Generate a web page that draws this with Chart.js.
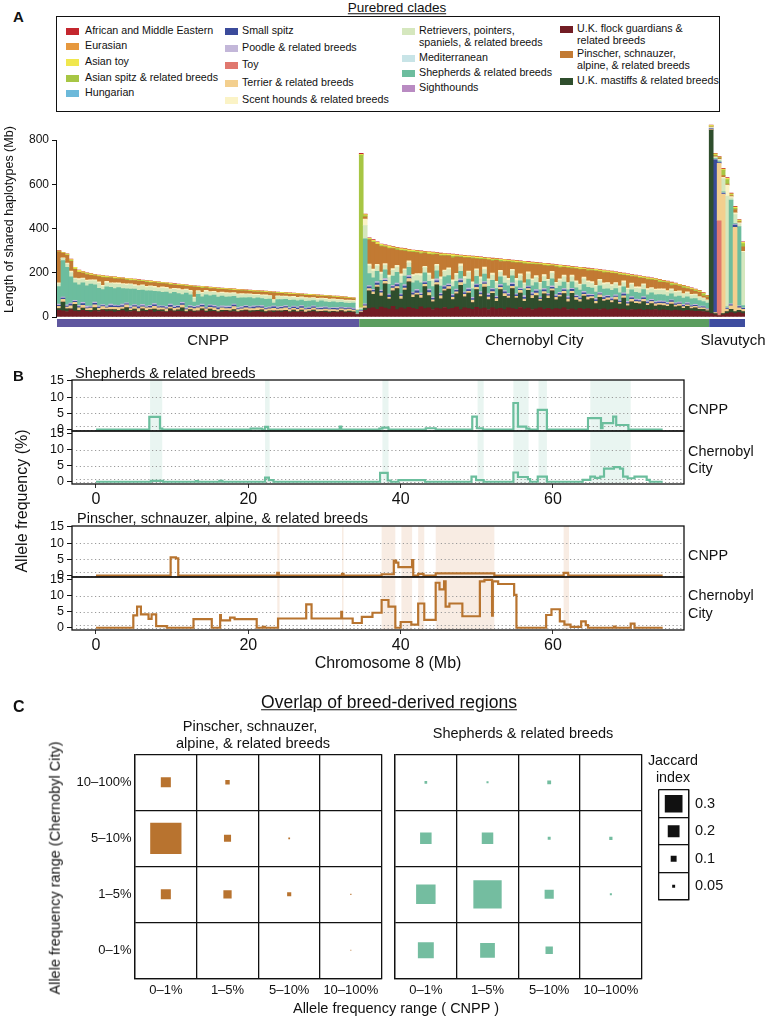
<!DOCTYPE html>
<html><head><meta charset="utf-8">
<script src="https://cdn.jsdelivr.net/npm/chart.js"></script>
<style>
body{margin:0;background:#fff;}
#fig{position:relative;width:770px;height:1018px;overflow:hidden;background:#fff;font-family:"Liberation Sans",Arial,Helvetica,sans-serif;color:#111;}
.t{position:absolute;white-space:pre;line-height:1;}
canvas{position:absolute;}
</style></head>
<body><div id="fig">
<canvas id="cA" width="770" height="240" style="left:0;top:112px"></canvas>
<canvas id="cB1" width="770" height="72" style="left:0;top:370px"></canvas>
<canvas id="cB2" width="770" height="90" style="left:0;top:421px"></canvas>
<canvas id="cB3" width="770" height="72" style="left:0;top:516px"></canvas>
<canvas id="cB4" width="770" height="90" style="left:0;top:567px"></canvas>
<canvas id="cC1" width="390" height="260" style="left:0;top:745px"></canvas>
<canvas id="cC2" width="380" height="260" style="left:390px;top:745px"></canvas>
<canvas id="cC3" width="130" height="135" style="left:640px;top:780px"></canvas>
</div>
<script>
// ================= DATA =================
// ---- Panel A: purebred clades ----
const cladeNames = ['African and Middle Eastern','Eurasian','Asian toy','Asian spitz & related breeds','Hungarian',
  'Small spitz','Poodle & related breeds','Toy','Terrier & related breeds','Scent hounds & related breeds',
  'Retrievers, pointers,\nspaniels, & related breeds','Mediterranean','Shepherds & related breeds','Sighthounds',
  'U.K. flock guardians &\nrelated breeds','Pinscher, schnauzer,\nalpine, & related breeds','U.K. mastiffs & related breeds'];
const cladeColors = ['#C4262E','#E6983E','#F0E74E','#A7C644','#6CB9DA',
  '#3B4B9B','#C3B7D9','#E0786F','#F3CF8E','#FBF3C6',
  '#D5E7BE','#C8E4E7','#6CBD9E','#B98BC2',
  '#721D24','#C27A33','#2F4E2D'];
const groupNames = ['CNPP','Chernobyl City','Slavutych'];
const groupColors = ['#5F579F','#5B9D5F','#3E4D9F'];
const yTicksA = [0,200,400,600,800];

// CNPP (dogs sorted by total length of shared haplotypes, Mb)
const cnppTotal = [300,292,285,262,225,212,205,200,196,192,189,187,185,183,181,179,177,175,173,171,
 169,167,165,163,161,159,157,155,153,151,149,147,145,143,141,140,138,137,135,134,
 132,131,129,128,127,125,124,123,122,120,119,118,117,115,114,113,112,110,109,108,
 107,105,104,103,102,100,99,98,97,95,94,92,91,89,87,35];
const cnppFlock = [30,28,25,32,27,24,30,26,22,28,25,30,24,27,22,26,29,23,25,28,21,27,24,30,22,26,25,21,28,23,
 26,24,20,27,22,25,29,21,24,26,20,23,27,22,25,21,24,28,20,23,26,22,19,25,21,24,22,27,20,23,
 21,25,19,22,24,20,23,21,18,22,20,24,19,21,20,10];
const cnppMastiff = [8,40,12,5,30,6,10,4,8,15,5,3,9,6,12,4,7,20,5,8,3,10,6,4,14,5,7,3,9,5,
 6,18,4,7,5,3,8,6,12,4,5,7,3,6,9,4,5,3,8,6,4,10,5,3,7,4,6,3,5,8,
 4,6,3,5,7,4,3,6,5,4,3,5,4,6,3,1];
const cnppTerrier = [10,12,8,14,9,11,13,8,10,12,9,14,8,11,10,13,9,12,8,10,14,9,11,8,12,10,9,13,8,11,
 10,12,9,8,11,13,9,10,8,12,9,11,8,10,13,9,8,11,10,9,12,8,10,9,11,8,10,12,9,8,
 10,9,11,8,9,10,8,9,10,8,9,8,10,9,8,3];
const cnppSmallSpitz = [5,6,4,7,5,6,8,4,5,7,6,5,4,8,5,6,7,4,5,6,8,5,4,6,7,5,6,4,8,5,
 6,7,4,5,6,5,7,4,6,5,8,4,5,6,7,4,5,6,4,7,5,6,4,5,7,4,6,5,4,6,
 5,7,4,5,6,4,5,6,4,5,6,4,5,4,5,2];
const cnppPoodle = [5,4,6,5,4,6,5,7,4,5,6,4,5,6,5,4,6,5,7,4,5,6,4,5,6,5,4,7,5,6,
 4,5,6,5,4,6,5,4,5,6,4,5,6,5,4,5,6,4,5,5,4,6,5,4,5,6,4,5,5,4,
 6,5,4,5,4,5,6,4,5,4,5,4,5,4,4,1];
const cnppRetriever = [12,10,15,20,18,22,16,20,15,18,22,14,19,17,21,15,18,16,20,14,17,19,15,18,16,14,19,15,17,13,
 16,18,14,15,17,13,16,14,15,12,16,13,15,14,12,15,13,14,12,15,11,13,14,12,11,13,12,10,13,11,
 12,10,12,11,10,12,9,11,10,9,11,10,9,10,9,2];
const cnppScent = [4,3,5,6,4,7,5,6,4,5,7,5,6,4,5,6,5,7,4,6,5,4,6,5,7,4,5,6,4,5,
 6,5,4,6,5,4,5,6,4,5,4,6,5,4,5,4,6,4,5,4,5,4,6,4,5,4,4,5,4,5,
 4,4,5,4,4,5,4,4,5,4,4,3,4,4,3,1];
const cnppPinscher = [140,20,35,45,40,28,22,25,20,18,24,35,16,22,19,18,21,17,15,19,20,16,18,14,17,19,15,16,18,14,
 15,17,13,16,45,15,18,12,14,13,15,12,14,13,11,14,12,13,11,12,10,13,11,12,30,11,12,9,11,10,
 12,9,10,11,9,10,8,9,10,8,9,8,9,8,7,1];
const cnppAsianSpitz = [2,1,2,3,2,1,2,3,2,1,2,2,3,1,2,2,1,3,2,2,1,2,3,2,1,2,2,1,3,2,
 1,2,2,1,2,2,3,1,2,1,2,2,1,2,1,2,2,1,2,1,2,1,2,2,1,2,1,2,1,1,
 2,1,2,1,1,2,1,1,2,1,1,1,2,1,1,0];
const cnppAsianToy = [2,2,3,5,6,8,4,3,5,4,3,6,4,3,5,4,3,4,5,3,4,3,4,5,3,4,3,3,4,3,
 4,3,3,4,3,3,4,3,3,3,4,3,3,3,4,3,3,3,3,4,3,3,3,3,3,3,3,3,4,3,
 3,3,3,3,3,3,3,3,3,3,3,3,3,3,3,1];
const cnppAfrican = [2,1,1,2,1,1,1,2,1,1,1,1,1,2,1,1,1,1,1,1,2,1,1,1,1,1,1,1,1,2,
 1,1,1,1,1,1,1,1,1,1,1,1,1,1,1,1,1,1,1,1,1,1,1,1,1,1,1,1,1,1,
 1,1,1,1,1,1,1,1,1,1,1,1,1,1,1,0];

// Chernobyl City
const chernTotal = [740,465,358,350,340,330,326,322,318,315,312,309,306,303,301,299,297,295,293,291,
 289,287,285,284,282,280,279,277,275,274,272,270,268,266,265,263,261,259,257,256,
 254,252,250,248,247,245,243,241,239,237,235,233,231,229,227,225,223,221,219,217,
 214,212,209,207,204,201,198,195,192,189,186,183,180,177,174,170,166,162,158,153,
 148,143,138,132,126,120,110,98];
const chernFlock = [20,30,38,42,35,45,40,36,48,33,41,37,44,39,35,46,38,42,34,40,
 37,43,36,39,45,33,41,38,35,44,37,40,34,42,36,39,33,41,38,35,
 43,36,40,34,37,42,35,39,33,38,36,41,34,37,32,39,35,38,33,36,
 34,37,32,35,38,33,36,31,34,32,35,30,33,31,34,29,32,30,28,31,
 29,27,30,28,26,27,25,22];
const chernMastiff = [0,10,80,60,100,50,110,45,70,95,40,85,115,50,65,40,100,55,35,105,
 45,75,90,40,60,110,50,70,30,80,55,95,45,65,35,85,60,45,90,50,
 65,35,80,50,60,30,70,45,85,40,55,65,35,70,45,30,60,40,50,25,
 55,35,45,30,40,25,50,20,35,30,25,40,20,30,15,25,20,18,30,15,
 20,12,18,10,15,8,10,6];
const chernTerrier = [5,10,10,12,9,14,11,8,13,10,12,9,15,11,8,12,10,13,9,11,
 14,8,12,10,9,13,11,8,12,10,9,14,11,8,12,10,13,9,11,8,
 12,10,9,13,11,8,10,12,9,11,8,10,12,9,11,10,8,12,9,10,
 11,8,10,9,12,8,10,9,11,8,9,10,8,9,10,8,9,8,10,8,
 9,8,7,8,7,6,7,5];
const chernSmallSpitz = [3,5,8,6,9,7,5,10,6,8,7,9,6,8,10,5,7,9,6,8,
 7,10,5,8,6,9,7,8,6,10,7,5,8,9,6,7,8,6,9,7,
 5,8,6,7,9,6,8,5,7,6,8,7,6,9,5,7,6,8,6,7,
 5,8,6,7,5,6,8,5,7,6,5,7,6,5,6,5,6,5,6,5,
 5,6,5,4,5,4,4,3];
const chernPoodle = [2,5,6,5,7,6,8,5,6,7,5,6,8,5,7,6,5,7,6,8,
 5,6,7,5,6,8,5,7,6,5,7,6,8,5,6,7,5,6,7,5,
 6,8,5,6,7,5,6,5,7,6,5,6,7,5,6,5,7,6,5,6,
 5,6,5,7,5,6,5,6,5,5,6,5,6,5,5,6,5,5,4,5,
 5,4,5,4,4,4,3,3];
const chernRetriever = [5,60,35,30,25,28,22,30,26,24,32,27,20,29,25,31,23,28,26,22,
 30,25,27,21,29,24,26,30,23,27,25,22,28,24,26,21,27,25,23,29,
 24,22,26,25,23,28,22,24,26,21,25,23,27,22,24,21,25,23,20,24,
 22,21,23,20,22,24,20,21,23,19,21,20,22,18,20,19,21,18,17,19,
 18,16,17,15,16,14,13,12];
const chernScent = [3,30,8,10,7,9,6,11,8,7,10,6,9,8,7,10,6,9,8,7,
 11,6,8,9,7,10,8,6,9,7,8,10,6,9,7,8,6,9,7,10,
 8,6,9,7,8,6,9,7,8,6,7,9,6,8,7,6,8,7,9,6,
 7,8,6,7,6,8,7,6,7,6,7,6,7,6,6,7,6,6,5,6,
 5,5,6,5,5,4,4,3];
const chernPinscher = [0,10,110,120,90,115,75,120,90,70,105,80,40,100,95,90,60,85,110,45,
 95,65,55,100,75,30,85,60,105,45,80,35,85,55,95,40,65,75,30,70,
 50,85,35,65,50,80,40,60,25,70,50,35,65,30,55,65,35,45,50,65,
 35,45,45,50,40,50,25,55,30,45,40,25,40,35,40,30,30,35,15,28,
 22,25,15,22,12,20,8,12];
const chernAsianSpitz = [690,5,3,4,2,5,3,4,2,6,3,4,2,5,3,4,2,3,5,2,
 4,3,2,6,3,4,2,3,5,2,4,3,2,4,3,5,2,3,4,2,
 3,5,2,4,3,2,3,4,2,3,5,2,3,4,2,3,2,4,3,2,
 3,4,2,3,2,3,4,2,3,2,3,2,4,3,2,6,3,2,8,3,
 2,7,3,2,5,2,10,3];
const chernAsianToy = [3,5,4,6,8,5,4,7,5,4,6,5,8,4,5,6,4,7,5,4,
 6,5,4,8,5,4,6,5,4,7,5,4,6,5,4,5,6,4,5,7,
 4,5,6,4,5,4,6,5,4,5,6,4,5,4,5,6,4,5,4,5,
 4,6,4,5,4,5,4,5,4,4,5,4,5,4,4,5,4,4,5,4,
 4,3,4,4,3,4,3,3];
const chernAfrican = [5,2,2,3,2,2,3,2,2,2,3,2,2,2,2,3,2,2,2,2,
 3,2,2,2,2,2,3,2,2,2,2,2,2,3,2,2,2,2,2,2,
 2,2,3,2,2,2,2,2,2,2,2,2,2,2,2,2,2,3,2,2,
 2,2,2,2,2,2,2,2,2,2,2,2,2,2,2,2,2,2,3,2,
 2,2,2,2,2,2,2,2];

// Slavutych
const slavTotal = [868,740,725,672,630,560,500,440,340];
const slavFlock = [15,10,5,10,15,20,15,20,15];
const slavMastiff = [830,5,0,5,10,15,10,10,10];
const slavToy = [0,0,430,0,0,0,0,0,0];
const slavTerrier = [3,5,260,540,10,15,380,12,10];
const slavSmallSpitz = [3,690,3,3,3,5,10,5,4];
const slavPoodle = [2,3,2,3,3,4,5,4,3];
const slavRetriever = [3,5,5,60,500,10,40,12,240];
const slavScent = [2,3,3,5,50,5,8,5,5];
const slavPinscher = [3,5,5,8,5,5,15,5,20];
const slavAsianSpitz = [2,3,2,25,20,3,5,3,15];
const slavAsianToy = [3,5,3,5,6,5,6,4,5];
const slavAfrican = [2,3,2,3,3,3,3,2,3];

// ---- Panel B: chromosome 8 allele frequency (%), step segments start (Mb) / value ----
const yTicksB = [0,5,10,15];
const xTicksB = [0,20,40,60];
const freqGuides = [0,1,5,10];
const shepBands = [[7.1,8.7],[22.2,22.8],[37.6,38.4],[50.1,50.9],[54.8,56.8],[58.1,59.2],[64.9,70.2]];
const pinBands = [[23.8,24.1],[32.3,32.5],[37.5,39.3],[40.1,41.5],[42.3,43.1],[44.6,52.3],[61.4,62.1]];
const shepCnppPos = [0,7.0,8.4,8.7,20.3,21.8,22.2,22.6,32.0,32.2,37.2,37.6,38.4,43.3,44.6,49.4,50.0,50.8,54.8,55.4,56.5,56.9,58.0,59.2,64.6,66.3,66.5,67.9,68.3,69.9,74.4];
const shepCnppVal = [0,3.9,0.3,0,0.3,0,0.8,0,0.9,0,0.3,0.6,0,0.4,0,4.0,0.4,0,8.2,0.9,0.3,0,6.1,0,3.5,0.4,2.0,4.0,1.4,0,0];
const shepChernPos = [0,7.2,8.8,13.1,13.4,16.2,16.6,22.2,22.7,23.3,37.3,38.3,38.7,39.7,43.2,49.3,49.9,50.9,54.8,55.4,56.7,57.0,58.0,59.2,63.9,64.9,65.5,66.2,66.7,68.0,68.8,69.2,69.8,70.7,72.3,72.7,74.4];
const shepChernVal = [0,0.3,0,0.2,0,0.3,0,1.3,0.5,0,2.8,0.4,0,0.5,0,1.6,0.5,0,2.9,1.5,0.8,0,1.6,0,0.6,1.6,1.2,1.6,4.1,4.6,4.1,1.6,1.1,1.6,0.6,0,0];
const pinCnppPos = [0,9.8,10.5,10.8,23.8,24.0,32.3,32.5,37.5,39.1,39.4,39.7,41.5,41.65,42.3,43.0,44.6,52.3,61.4,62.0,74.4];
const pinCnppVal = [0,5.6,5.3,0,0.8,0,0.5,0,0.4,4.6,4.0,2.6,4.8,0,0.5,0,0.7,0,0.8,0,0];
const pinChernPos = [0,4.9,5.4,5.9,6.9,7.3,7.9,9.3,12.8,15.2,16.3,16.4,17.6,18.2,21.1,21.9,22.2,23.9,27.6,28.3,32.2,32.3,33.7,34.9,36.3,37.5,38.4,39.3,40.0,41.4,42.3,43.1,44.6,45.1,45.7,45.9,46.4,48.1,50.4,51.0,52.0,52.1,52.8,54.9,55.2,59.1,59.8,60.9,61.5,62.3,63.7,64.3,64.6,68.0,68.2,70.2,70.7,74.4];
const pinChernVal = [0,3.9,6.6,4.2,2.8,4.2,0.5,0,2.7,0,4.0,2.3,3.2,2.7,0,0.3,0,2.9,7.3,2.9,5.0,2.9,1.5,3.4,4.7,8.7,6.6,0,1.8,1.0,7.6,2.5,14.1,12.0,14.5,6.6,7.6,3.6,14.5,15.0,3.8,14.5,13.7,10.3,0,4.0,5.8,2.0,1.0,0.3,2.0,0.8,0,0.4,0,1.3,0,0];

// ---- Panel C: Jaccard index; rows = Chernobyl City range, columns = CNPP range ----
const freqRanges = ['0–1%','1–5%','5–10%','10–100%'];
const pinJ_10_100 = [0.17,0.075,0,0];
const pinJ_5_10 = [0.53,0.12,0.03,0];
const pinJ_1_5 = [0.17,0.14,0.07,0.02];
const pinJ_0_1 = [0,0,0,0.015];
const shepJ_10_100 = [0.045,0.035,0.065,0];
const shepJ_5_10 = [0.195,0.195,0.05,0.055];
const shepJ_1_5 = [0.33,0.48,0.155,0.035];
const shepJ_0_1 = [0.27,0.25,0.125,0];
const jaccardKeys = [0.3,0.2,0.1,0.05];

// ================= RENDER =================
const FONT = '"Liberation Sans", Arial, Helvetica, sans-serif';
Chart.defaults.font.family = FONT;
Chart.defaults.color = '#111';
Chart.defaults.animation = false;
const fig = document.getElementById('fig');
function noPad(s) { s.paddingTop = 0; s.paddingBottom = 0; s.paddingLeft = 0; s.paddingRight = 0; }
function addText(str, x, y, o = {}) {
  const d = document.createElement('div');
  d.className = 't';
  d.textContent = str;
  d.style.left = x + 'px'; d.style.top = y + 'px';
  d.style.fontSize = (o.size || 12) + 'px';
  if (o.bold) d.style.fontWeight = 'bold';
  if (o.underline) d.style.textDecoration = 'underline';
  if (o.lh) d.style.lineHeight = o.lh + 'px';
  let tr = 'translateY(-50%)';
  if (o.align === 'center') tr = 'translate(-50%,-50%)';
  if (o.rotate) tr = 'translate(-50%,-50%) rotate(-90deg)';
  if (o.raw) tr = 'none';
  d.style.transform = tr;
  fig.appendChild(d);
  return d;
}

// ---------- Panel A ----------
addText('A', 13, 16, {size: 15, bold: true});
addText('Purebred clades', 397, 8, {size: 13.5, align: 'center', underline: true});
const box = document.createElement('div');
Object.assign(box.style, {position: 'absolute', left: '56px', top: '16px', width: '664px', height: '96px', border: '1.3px solid #111', boxSizing: 'border-box'});
fig.appendChild(box);
const legendLayout = [
  {sw: 66, tx: 85, ys: [31,46,62,78,93]},
  {sw: 225, tx: 242, ys: [31,48,65,83,100]},
  {sw: 402, tx: 419, ys: [31,58,73,88]},
  {sw: 560, tx: 577, ys: [29,54,81]}
];
let ci = 0;
legendLayout.forEach(col => col.ys.forEach(yy => {
  const sw = document.createElement('div');
  Object.assign(sw.style, {position: 'absolute', left: col.sw + 'px', top: (yy - 3.5) + 'px', width: '13px', height: '7px', background: cladeColors[ci]});
  fig.appendChild(sw);
  addText(cladeNames[ci], col.tx, yy - 5.75, {size: 10.7, lh: 11.5, raw: true});
  ci++;
}));

const groups = [
  {name: groupNames[0], total: cnppTotal, parts: {flock: cnppFlock, mastiff: cnppMastiff, terrier: cnppTerrier, smallSpitz: cnppSmallSpitz, poodle: cnppPoodle, retriever: cnppRetriever, scent: cnppScent, pinscher: cnppPinscher, asianSpitz: cnppAsianSpitz, asianToy: cnppAsianToy, african: cnppAfrican}},
  {name: groupNames[1], total: chernTotal, parts: {flock: chernFlock, mastiff: chernMastiff, terrier: chernTerrier, smallSpitz: chernSmallSpitz, poodle: chernPoodle, retriever: chernRetriever, scent: chernScent, pinscher: chernPinscher, asianSpitz: chernAsianSpitz, asianToy: chernAsianToy, african: chernAfrican}},
  {name: groupNames[2], total: slavTotal, parts: {flock: slavFlock, mastiff: slavMastiff, toy: slavToy, terrier: slavTerrier, smallSpitz: slavSmallSpitz, poodle: slavPoodle, retriever: slavRetriever, scent: slavScent, pinscher: slavPinscher, asianSpitz: slavAsianSpitz, asianToy: slavAsianToy, african: slavAfrican}}
];
const stackOrder = ['flock','mastiff','toy','terrier','smallSpitz','poodle','shepherd','retriever','scent','pinscher','asianSpitz','asianToy','african'];
const cladeOfKey = {african: 0, asianToy: 2, asianSpitz: 3, smallSpitz: 5, poodle: 6, toy: 7, terrier: 8, scent: 9, retriever: 10, shepherd: 12, flock: 14, pinscher: 15, mastiff: 16};
function partValue(g, key, i) {
  if (key === 'shepherd') {
    let s = 0;
    Object.keys(g.parts).forEach(k => { s += g.parts[k][i]; });
    return Math.max(0, g.total[i] - s);
  }
  return g.parts[key] ? g.parts[key][i] : 0;
}
const labelsA = [];
groups.forEach(g => g.total.forEach((_, i) => labelsA.push(g.name + ' #' + (i + 1))));
const datasetsA = stackOrder.map(key => ({
  label: cladeNames[cladeOfKey[key]],
  data: [].concat(...groups.map(g => g.total.map((_, i) => partValue(g, key, i)))),
  backgroundColor: cladeColors[cladeOfKey[key]],
  borderWidth: 0, barPercentage: 1, categoryPercentage: 1, stack: 's'
}));
const stripPlugin = {
  id: 'groupStrip',
  afterDatasetsDraw(chart) {
    const {ctx} = chart; const x = chart.scales.x, y = chart.scales.y;
    const half = (x.getPixelForValue(1) - x.getPixelForValue(0)) / 2;
    const y0 = y.getPixelForValue(0);
    let start = 0;
    ctx.save();
    groups.forEach((g, gi) => {
      const n = g.total.length;
      const xL = x.getPixelForValue(start) - half;
      const xR = x.getPixelForValue(start + n - 1) + half;
      ctx.fillStyle = groupColors[gi];
      ctx.fillRect(xL, y0 + 2, xR - xL, 8);
      ctx.fillStyle = '#111';
      ctx.font = '15px ' + FONT;
      ctx.textAlign = 'center'; ctx.textBaseline = 'middle';
      ctx.fillText(g.name, (xL + xR) / 2 + (gi === 2 ? 6 : 0), y0 + 24);
      start += n;
    });
    ctx.strokeStyle = '#111'; ctx.lineWidth = 1;
    const ax = Math.round(chart.chartArea.left) - 0.5;
    ctx.beginPath();
    ctx.moveTo(ax, y.getPixelForValue(0));
    ctx.lineTo(ax, y.getPixelForValue(yTicksA[yTicksA.length - 1]));
    ctx.stroke();
    ctx.restore();
  }
};
new Chart(document.getElementById('cA'), {
  type: 'bar',
  data: {labels: labelsA, datasets: datasetsA},
  options: {
    responsive: false, events: [],
    layout: {autoPadding: false, padding: {top: 10.3, right: 25, bottom: 35, left: 0}},
    plugins: {legend: {display: false}, tooltip: {enabled: false}},
    scales: {
      x: {stacked: true, display: false},
      y: {stacked: true, min: 0, max: 880,
        afterFit(s) { s.width = 57; noPad(s); },
        afterBuildTicks(s) { s.ticks = yTicksA.map(v => ({value: v})); },
        grid: {drawOnChartArea: false, tickLength: 5, color: '#111'},
        border: {display: false},
        ticks: {font: {size: 12}, color: '#111', padding: 3, autoSkip: false},
        title: {display: true, text: 'Length of shared haplotypes (Mb)', font: {size: 12.5}, color: '#111', padding: {top: 2, bottom: 0}}
      }
    }
  },
  plugins: [stripPlugin]
});

// ---------- Panel B ----------
addText('B', 13, 375, {size: 15, bold: true});
addText('Shepherds & related breeds', 75, 373, {size: 14.5});
addText('Pinscher, schnauzer, alpine, & related breeds', 77, 518, {size: 14.5});
addText('CNPP', 688, 409, {size: 14.4});
addText('Chernobyl', 688, 451, {size: 14.4});
addText('City', 688, 468, {size: 14.4});
addText('CNPP', 688, 555, {size: 14.4});
addText('Chernobyl', 688, 595, {size: 14.4});
addText('City', 688, 613, {size: 14.4});
addText('Allele frequency (%)', 22, 501, {size: 16, rotate: true});
addText('Chromosome 8 (Mb)', 388, 663, {size: 16, align: 'center'});

function makeTrack(id, pos, val, color, bands, bandColor, yMin, yMax, isBottom) {
  const decor = {
    id: 'decor_' + id,
    beforeDatasetsDraw(chart) {
      const {ctx, chartArea: a} = chart; const x = chart.scales.x, y = chart.scales.y;
      ctx.save();
      ctx.fillStyle = bandColor;
      bands.forEach(b => { const x0 = x.getPixelForValue(b[0]), x1 = x.getPixelForValue(b[1]); ctx.fillRect(x0, a.top, x1 - x0, a.bottom - a.top); });
      ctx.strokeStyle = '#9a9a9a'; ctx.lineWidth = 1; ctx.setLineDash([1.2, 2.6]);
      freqGuides.forEach(v => { const yy = Math.round(y.getPixelForValue(v)) + 0.5; ctx.beginPath(); ctx.moveTo(a.left + 4, yy); ctx.lineTo(a.right, yy); ctx.stroke(); });
      ctx.restore();
    },
    afterDatasetsDraw(chart) {
      const {ctx, chartArea: a} = chart;
      ctx.save();
      ctx.strokeStyle = '#111'; ctx.lineWidth = 1.3;
      ctx.strokeRect(a.left, a.top, a.right - a.left, a.bottom - a.top);
      ctx.restore();
    }
  };
  return new Chart(document.getElementById(id), {
    type: 'line',
    data: {datasets: [{data: pos.map((p, i) => ({x: p, y: val[i]})), borderColor: color, borderWidth: 2.2, pointRadius: 0, stepped: true, fill: false, borderJoinStyle: 'miter'}]},
    options: {
      responsive: false, events: [],
      layout: {autoPadding: false, padding: {top: 10, right: 86, bottom: isBottom ? 0 : 11, left: 0}},
      plugins: {legend: {display: false}, tooltip: {enabled: false}},
      scales: {
        x: {type: 'linear', min: -3.15, max: 77.2, display: isBottom,
          afterFit(s) { s.height = isBottom ? 27 : 0; noPad(s); },
          afterBuildTicks(s) { s.ticks = xTicksB.map(v => ({value: v})); },
          grid: {drawOnChartArea: false, tickLength: 4, color: '#333'},
          border: {display: false},
          ticks: {font: {size: 16}, color: '#111', padding: 2, maxRotation: 0, autoSkip: false}},
        y: {type: 'linear', min: yMin, max: yMax,
          afterFit(s) { s.width = 72; noPad(s); },
          afterBuildTicks(s) { s.ticks = yTicksB.map(v => ({value: v})); },
          grid: {drawOnChartArea: false, tickLength: 5, color: '#111'},
          border: {display: false},
          ticks: {font: {size: 12.5}, color: '#111', padding: 3, autoSkip: false}}
      }
    },
    plugins: [decor]
  });
}
const shepColor = '#6BBE9D', pinColor = '#B8742F';
const shepBand = 'rgba(108,190,158,0.15)', pinBand = 'rgba(205,125,70,0.15)';
makeTrack('cB1', shepCnppPos, shepCnppVal, shepColor, shepBands, shepBand, -0.45, 15.3, false);
makeTrack('cB2', shepChernPos, shepChernVal, shepColor, shepBands, shepBand, -0.7, 15.9, true);
makeTrack('cB3', pinCnppPos, pinCnppVal, pinColor, pinBands, pinBand, -0.45, 15.3, false);
makeTrack('cB4', pinChernPos, pinChernVal, pinColor, pinBands, pinBand, -0.7, 15.9, true);

// ---------- Panel C ----------
addText('C', 13, 707, {size: 16, bold: true});
addText('Overlap of breed-derived regions', 389, 703, {size: 17.5, align: 'center', underline: true});
addText('Pinscher, schnauzer,', 250, 726, {size: 14.6, align: 'center'});
addText('alpine, & related breeds', 253, 743, {size: 14.6, align: 'center'});
addText('Shepherds & related breeds', 523, 733, {size: 14.5, align: 'center'});
addText('Allele frequency range (Chernobyl City)', 55, 868, {size: 14.5, rotate: true});
addText('Allele frequency range ( CNPP )', 396, 1008, {size: 14.5, align: 'center'});
addText('Jaccard', 673, 760, {size: 14.3, align: 'center'});
addText('index', 673, 777, {size: 14.3, align: 'center'});

const rowLabels = freqRanges.slice().reverse(); // top to bottom
const SIDE_PER_J = 59;
function sqRadius(ctx) { return (ctx.raw && ctx.raw.j > 0) ? ctx.raw.j * SIDE_PER_J / Math.SQRT2 : 0; }
function makeGrid(id, rows, color, showY, pad) {
  const data = [];
  rows.forEach((r, ri) => r.forEach((v, cj) => data.push({x: freqRanges[cj], y: rowLabels[ri], j: v})));
  return new Chart(document.getElementById(id), {
    type: 'scatter',
    data: {datasets: [{data, pointStyle: 'rect', pointRadius: sqRadius, backgroundColor: color, pointBorderWidth: 0, borderWidth: 0}]},
    options: {
      responsive: false, events: [],
      layout: {autoPadding: false, padding: pad},
      plugins: {legend: {display: false}, tooltip: {enabled: false}},
      scales: {
        x: {type: 'category', labels: freqRanges, offset: true,
          afterFit(s) { s.height = 26.7; noPad(s); },
          grid: {offset: true, color: '#111', lineWidth: 1.3, drawTicks: false},
          border: {color: '#111', width: 1.3},
          ticks: {font: {size: 13}, color: '#111', padding: 4, maxRotation: 0, autoSkip: false}},
        y: {type: 'category', labels: rowLabels, offset: true,
          afterFit(s) { s.width = showY ? 135 : 5; noPad(s); },
          grid: {offset: true, color: '#111', lineWidth: 1.3, drawTicks: false},
          border: {color: '#111', width: 1.3},
          ticks: {display: showY, font: {size: 13}, color: '#111', padding: 3.5, autoSkip: false}}
      }
    }
  });
}
makeGrid('cC1', [pinJ_10_100, pinJ_5_10, pinJ_1_5, pinJ_0_1], '#B8732F', true, {top: 9.3, right: 8.3, bottom: 0, left: 0});
makeGrid('cC2', [shepJ_10_100, shepJ_5_10, shepJ_1_5, shepJ_0_1], '#74BDA0', false, {top: 9.3, right: 128.3, bottom: 0, left: 0});

// Jaccard size key
const keyLabels = jaccardKeys.map(String);
new Chart(document.getElementById('cC3'), {
  type: 'scatter',
  data: {datasets: [{data: jaccardKeys.map((k, i) => ({x: 'key', y: keyLabels[i], j: k})), pointStyle: 'rect', pointRadius: sqRadius, backgroundColor: '#111', pointBorderWidth: 0}]},
  options: {
    responsive: false, events: [],
    layout: {autoPadding: false, padding: {top: 10, right: 0, bottom: 15, left: 18.3}},
    plugins: {legend: {display: false}, tooltip: {enabled: false}},
    scales: {
      x: {type: 'category', labels: ['key'], offset: true, display: true,
        afterFit(s) { s.height = 0; noPad(s); },
        grid: {offset: true, color: '#111', lineWidth: 1.3, drawTicks: false},
        border: {color: '#111', width: 1.3},
        ticks: {display: false}},
      y: {type: 'category', labels: keyLabels, offset: true, position: 'right',
        afterFit(s) { s.width = 81; noPad(s); },
        grid: {offset: true, color: '#111', lineWidth: 1.3, drawTicks: false},
        border: {color: '#111', width: 1.3},
        ticks: {font: {size: 14.5}, color: '#111', padding: 6, autoSkip: false}}
    }
  }
});
</script>
</body></html>
